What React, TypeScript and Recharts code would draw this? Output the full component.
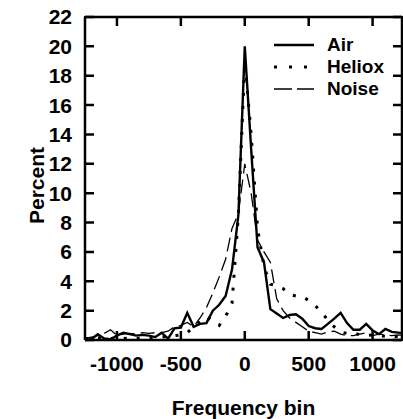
import { LineChart, Line, XAxis, YAxis, Legend, ReferenceLine, CartesianGrid } from 'recharts'

const freq = [
  -1250, -1200, -1150, -1100, -1050, -1000, -950, -900, -850, -800, -750, -700, -650,
  -600, -550, -500, -450, -400, -350, -300, -250, -200, -150, -100, -50, 0, 50, 100,
  150, 200, 250, 300, 350, 400, 450, 500, 550, 600, 650, 700, 750, 800, 850, 900, 950,
  1000, 1050, 1100, 1150, 1200, 1250,
]

const air = [
  0.0, 0.05, 0.4, 0.1, 0.05, 0.3, 0.5, 0.4, 0.3, 0.35, 0.3, 0.2, 0.5,
  0.1, 0.8, 0.85, 1.85, 0.9, 1.1, 1.15, 2.0, 2.4, 3.0, 4.8, 8.5, 20.0, 13.0, 6.3,
  5.3, 2.1, 1.8, 1.5, 1.7, 1.75, 1.45, 0.95, 0.8, 0.75, 1.1, 1.45, 1.85, 1.15, 0.7, 0.7, 1.1,
  0.65, 0.4, 0.75, 0.55, 0.5, 0.45,
]

const heliox = [
  0.1, 0.1, 0.15, 0.1, 0.1, 0.15, 0.1, 0.15, 0.1, 0.15, 0.1, 0.15, 0.2,
  0.25, 0.3, 0.35, 0.5, 0.9, 1.3, 1.6, 1.3, 1.0, 1.6, 2.5, 8.5, 19.0, 14.0, 7.6,
  5.0, 3.8, 3.7, 3.5, 3.1, 3.0, 2.95, 2.7, 2.35, 1.9, 1.35, 0.9, 0.55, 0.45, 0.5, 0.35, 0.3,
  0.35, 0.3, 0.25, 0.3, 0.2, 0.2,
]

const noise = [
  0.1, 0.2, 0.3, 0.45, 0.7, 0.3, 0.4, 0.45, 0.4, 0.5, 0.45, 0.5, 0.5,
  0.6, 0.9, 1.0, 1.2, 0.9, 1.5, 2.2, 3.2, 4.3, 5.5, 7.6, 8.6, 12.0, 10.0, 6.8,
  6.0, 5.3, 2.8, 2.0, 1.5, 1.2, 0.9, 0.6, 0.5, 0.4, 0.55, 0.6, 0.4, 0.3, 0.3, 0.4, 0.5,
  0.3, 0.4, 0.35, 0.3, 0.35, 0.3,
]

const xTicks = [-1000, -500, 0, 500, 1000]
const yTicks = [0, 2, 4, 6, 8, 10, 12, 14, 16, 18, 20, 22]
const xDomain = [-1250, 1230]
const yDomain = [0, 22]

const data = freq.map((f, i) => ({ f, air: air[i], heliox: heliox[i], noise: noise[i] }))

// layout
const W = 403
const H = 419
const margin = { top: 17, right: 1, bottom: 0, left: 0 }
const X_AXIS_H = 79
const Y_AXIS_W = 85
const PLOT_TOP = margin.top
const PLOT_BOTTOM = H - margin.bottom - X_AXIS_H
const PLOT_LEFT = margin.left + Y_AXIS_W
const PLOT_RIGHT = W - margin.right

const FONT = '"Liberation Sans", Arial, Helvetica, sans-serif'
const INK = '#000'
const FRAME_W = 2.5
const TICK_LEN = 9
const frame = { stroke: INK, strokeWidth: FRAME_W }

const legendRows = [
  { name: 'Air', width: 2.4, dash: undefined as string | undefined },
  { name: 'Heliox', width: 3, dash: '3 12' },
  { name: 'Noise', width: 1.3, dash: '18 5' },
]

function LegendBox() {
  return (
    <div style={{ fontFamily: FONT, fontWeight: 700, fontSize: 19, color: INK, lineHeight: '22px' }}>
      {legendRows.map((r) => (
        <div key={r.name} style={{ display: 'flex', alignItems: 'center', height: 22 }}>
          <svg width={42} height={22} style={{ marginRight: 12 }}>
            <line x1={1} x2={41} y1={11} y2={11} stroke={INK} strokeWidth={r.width} strokeDasharray={r.dash} />
          </svg>
          <span>{r.name}</span>
        </div>
      ))}
    </div>
  )
}

function PercentLabel(props: any) {
  const vb = props.viewBox || { x: 0, y: PLOT_TOP, width: Y_AXIS_W, height: PLOT_BOTTOM - PLOT_TOP }
  const cx = vb.x + 36
  const cy = vb.y + vb.height / 2 + 7
  return (
    <text
      x={cx}
      y={cy}
      transform={`rotate(-90, ${cx}, ${cy})`}
      textAnchor="middle"
      dominantBaseline="central"
      fontFamily={FONT}
      fontWeight={700}
      fontSize={21}
      fill={INK}
    >
      Percent
    </text>
  )
}

// reference line drawn only as short inward marks at both ends (frame ticks)
function XTickMarks(p: any) {
  const top = Math.min(p.y1, p.y2)
  const bottom = Math.max(p.y1, p.y2)
  return (
    <path
      d={`M${p.x1},${top}v${TICK_LEN}M${p.x1},${bottom}v${-TICK_LEN}`}
      stroke={INK}
      strokeWidth={FRAME_W}
      fill="none"
    />
  )
}

function YTickMarks(p: any) {
  const left = Math.min(p.x1, p.x2)
  const right = Math.max(p.x1, p.x2)
  return (
    <path
      d={`M${left},${p.y1}h${TICK_LEN}M${right},${p.y1}h${-TICK_LEN}`}
      stroke={INK}
      strokeWidth={FRAME_W}
      fill="none"
    />
  )
}

export default function App() {
  return (
    <div style={{ position: 'absolute', left: 0, top: 0, width: W, height: H, background: '#fff' }}>
      <LineChart width={W} height={H} data={data} margin={margin}>
        <CartesianGrid
          stroke={INK}
          strokeWidth={FRAME_W}
          horizontalPoints={[PLOT_TOP]}
          verticalPoints={[PLOT_RIGHT]}
        />
        <XAxis
          dataKey="f"
          type="number"
          domain={xDomain}
          allowDataOverflow
          ticks={xTicks}
          interval={0}
          height={X_AXIS_H}
          axisLine={frame}
          tickLine={false}
          tickSize={0}
          tickMargin={16}
          tick={{ fill: INK, fontSize: 21, fontWeight: 700, fontFamily: FONT }}
          label={{
            value: 'Frequency bin',
            position: 'insideBottom',
            offset: 4,
            fill: INK,
            fontSize: 21,
            fontWeight: 700,
            fontFamily: FONT,
          }}
        />
        <YAxis
          type="number"
          domain={yDomain}
          ticks={yTicks}
          interval={0}
          width={Y_AXIS_W}
          axisLine={frame}
          tickLine={false}
          tickSize={0}
          tickMargin={13}
          tick={{ fill: INK, fontSize: 21, fontWeight: 700, fontFamily: FONT }}
          label={<PercentLabel />}
        />
        <Legend
          layout="vertical"
          align="center"
          verticalAlign="middle"
          content={() => <LegendBox />}
          wrapperStyle={{ left: 273, top: 34, width: 130 }}
        />
        <Line
          dataKey="air"
          name="Air"
          type="linear"
          stroke={INK}
          strokeWidth={2.4}
          dot={false}
          isAnimationActive={false}
        />
        <Line
          dataKey="heliox"
          name="Heliox"
          type="linear"
          stroke={INK}
          strokeWidth={3}
          strokeDasharray="3 10"
          dot={false}
          isAnimationActive={false}
        />
        <Line
          dataKey="noise"
          name="Noise"
          type="linear"
          stroke={INK}
          strokeWidth={1.3}
          strokeDasharray="14 6"
          dot={false}
          isAnimationActive={false}
        />
        {xTicks.map((t) => (
          <ReferenceLine key={`xt${t}`} x={t} ifOverflow="visible" shape={XTickMarks} />
        ))}
        {yTicks.map((t) => (
          <ReferenceLine key={`yt${t}`} y={t} ifOverflow="visible" shape={YTickMarks} />
        ))}
      </LineChart>
      {/* boxed frame edges */}
      <div
        style={{
          position: 'absolute',
          left: PLOT_LEFT - FRAME_W / 2,
          top: PLOT_TOP - FRAME_W / 2,
          width: PLOT_RIGHT - PLOT_LEFT,
          height: PLOT_BOTTOM - PLOT_TOP,
          borderTop: `${FRAME_W}px solid ${INK}`,
          borderRight: `${FRAME_W}px solid ${INK}`,
          boxSizing: 'content-box',
          pointerEvents: 'none',
        }}
      />
    </div>
  )
}
